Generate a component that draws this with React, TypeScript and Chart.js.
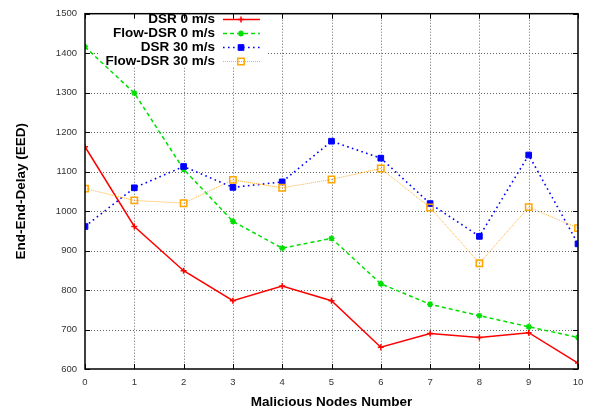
import React, { useEffect, useRef } from 'react';
import { Chart, registerables } from 'chart.js';
import { drawPoint } from 'chart.js/helpers';

Chart.register(...registerables);

const nodes = [0, 1, 2, 3, 4, 5, 6, 7, 8, 9, 10];
const dsr0 = [1163, 961, 849, 773, 810, 773, 655, 690, 680, 692, 615];
const flowDsr0 = [1416, 1299, 1106, 974, 906, 931, 816, 764, 735, 707, 680];
const dsr30 = [961, 1059, 1113, 1060, 1074, 1177, 1134, 1019, 936, 1142, 917];
const flowDsr30 = [1057, 1027, 1020, 1079, 1059, 1080, 1108, 1009, 868, 1010, 957];
const seriesNames = ['DSR 0 m/s', 'Flow-DSR 0 m/s', 'DSR 30 m/s', 'Flow-DSR 30 m/s'];
const xTitle = 'Malicious Nodes Number';
const yTitle = 'End-End-Delay (EED)';
const yMin = 600;
const yMax = 1500;
const yStep = 100;

const FONT = '"Liberation Sans", Arial, Helvetica, sans-serif';

const framePlugin = {
  id: 'gnuplotFrame',
  beforeDatasetsDraw(chart: any) {
    const { ctx, chartArea: a, scales } = chart;
    const xs = scales.x;
    const ys = scales.y;
    ctx.save();
    ctx.strokeStyle = '#666';
    ctx.lineWidth = 1;
    ctx.setLineDash([1, 2]);
    xs.ticks.forEach((t: any) => {
      const px = Math.round(xs.getPixelForValue(t.value)) + 0.5;
      if (px <= a.left + 1 || px >= a.right - 1) return;
      ctx.beginPath();
      ctx.moveTo(px, a.top);
      ctx.lineTo(px, a.bottom);
      ctx.stroke();
    });
    ys.ticks.forEach((t: any) => {
      const py = Math.round(ys.getPixelForValue(t.value)) + 0.5;
      if (py <= a.top + 1 || py >= a.bottom - 1) return;
      ctx.beginPath();
      ctx.moveTo(a.left, py);
      ctx.lineTo(a.right, py);
      ctx.stroke();
    });
    // opaque key box
    ctx.fillStyle = '#fff';
    ctx.fillRect(a.left + 14, a.top + 1, 267 - (a.left + 14), 67 - (a.top + 1));
    ctx.restore();
  },
  afterDraw(chart: any) {
    const { ctx, chartArea: a, scales } = chart;
    const xs = scales.x;
    const ys = scales.y;
    ctx.save();
    ctx.setLineDash([]);
    ctx.strokeStyle = '#000';
    ctx.lineWidth = 1;
    const tl = 5;
    xs.ticks.forEach((t: any) => {
      const px = Math.round(xs.getPixelForValue(t.value)) + 0.5;
      ctx.beginPath();
      ctx.moveTo(px, a.bottom);
      ctx.lineTo(px, a.bottom - tl);
      ctx.moveTo(px, a.top);
      ctx.lineTo(px, a.top + tl);
      ctx.stroke();
    });
    ys.ticks.forEach((t: any) => {
      const py = Math.round(ys.getPixelForValue(t.value)) + 0.5;
      ctx.beginPath();
      ctx.moveTo(a.left, py);
      ctx.lineTo(a.left + tl, py);
      ctx.moveTo(a.right, py);
      ctx.lineTo(a.right - tl, py);
      ctx.stroke();
    });
    ctx.lineWidth = 1.5;
    ctx.strokeRect(a.left, a.top, a.right - a.left, a.bottom - a.top);

    // axis titles
    ctx.fillStyle = '#000';
    ctx.font = `bold 13.5px ${FONT}`;
    ctx.textAlign = 'center';
    ctx.textBaseline = 'middle';
    ctx.fillText(xTitle, (a.left + a.right) / 2, 402);
    ctx.save();
    ctx.translate(21, (a.top + a.bottom) / 2);
    ctx.rotate(-Math.PI / 2);
    ctx.fillText(yTitle, 0, 0);
    ctx.restore();

    // legend
    const rows = [19, 33, 47, 61];
    chart.data.datasets.forEach((ds: any, i: number) => {
      const y = rows[i];
      ctx.fillStyle = '#000';
      ctx.font = `bold 13.5px ${FONT}`;
      ctx.textAlign = 'right';
      ctx.textBaseline = 'middle';
      ctx.fillText(ds.label, 215, y);
      ctx.save();
      ctx.strokeStyle = ds.borderColor;
      ctx.lineWidth = ds.borderWidth;
      ctx.setLineDash(ds.borderDash || []);
      ctx.beginPath();
      ctx.moveTo(223, y + 0.5);
      ctx.lineTo(260, y + 0.5);
      ctx.stroke();
      ctx.setLineDash([]);
      ctx.strokeStyle = ds.pointBorderColor;
      ctx.fillStyle = ds.pointBackgroundColor;
      ctx.lineWidth = ds.pointBorderWidth;
      drawPoint(ctx, { pointStyle: ds.pointStyle, radius: ds.pointRadius, rotation: 0, borderWidth: ds.pointBorderWidth }, 241, y + 0.5);
      ctx.restore();
    });
    ctx.restore();
  },
};

export default function App() {
  const ref = useRef<HTMLCanvasElement>(null);
  useEffect(() => {
    if (!ref.current) return;
    const mk = (arr: number[]) => nodes.map((n, i) => ({ x: n, y: arr[i] }));
    const chart = new Chart(ref.current, {
      type: 'line',
      data: {
        datasets: [
          {
            label: seriesNames[0],
            data: mk(dsr0),
            borderColor: '#ff0000',
            borderWidth: 1.5,
            pointStyle: 'cross',
            pointRadius: 3,
            pointBorderWidth: 1.5,
            pointBorderColor: '#ff0000',
            pointBackgroundColor: '#ff0000',
            order: 4,
          },
          {
            label: seriesNames[1],
            data: mk(flowDsr0),
            borderColor: '#00e000',
            borderWidth: 1.5,
            borderDash: [4, 3],
            pointStyle: 'star',
            pointRadius: 3,
            pointBorderWidth: 1.5,
            pointBorderColor: '#00e000',
            pointBackgroundColor: '#00e000',
            order: 3,
          },
          {
            label: seriesNames[2],
            data: mk(dsr30),
            borderColor: '#0000ff',
            borderWidth: 1.6,
            borderDash: [1.6, 3.4],
            pointStyle: 'rect',
            pointRadius: 4,
            pointBorderWidth: 1,
            pointBorderColor: '#0000ff',
            pointBackgroundColor: '#0000ff',
            order: 2,
          },
          {
            label: seriesNames[3],
            data: mk(flowDsr30),
            borderColor: '#ffb030',
            borderWidth: 1,
            borderDash: [1, 1],
            pointStyle: 'rect',
            pointRadius: 4.5,
            pointBorderWidth: 1.5,
            pointBorderColor: '#ffa500',
            pointBackgroundColor: 'rgba(255,255,255,0)',
            order: 1,
          },
        ] as any,
      },
      options: {
        responsive: false,
        maintainAspectRatio: false,
        animation: false,
        devicePixelRatio: 1,
        layout: { padding: { top: 8, right: 17, left: 0, bottom: 0 } },
        plugins: { legend: { display: false }, tooltip: { enabled: false } },
        elements: { line: { tension: 0 } },
        scales: {
          x: {
            type: 'linear',
            min: 0,
            max: 10,
            grid: { display: false, drawTicks: false },
            border: { display: false },
            ticks: {
              stepSize: 1,
              padding: 8,
              color: '#333',
              font: { family: FONT, size: 9.5 },
              maxRotation: 0,
              callback: (v: any) => String(v),
            },
            afterFit: (s: any) => {
              s.height = 46;
            },
          },
          y: {
            type: 'linear',
            min: yMin,
            max: yMax,
            grid: { display: false, drawTicks: false },
            border: { display: false },
            ticks: {
              stepSize: yStep,
              padding: 8,
              color: '#333',
              font: { family: FONT, size: 9.5 },
              callback: (v: any) => String(v),
            },
            afterFit: (s: any) => {
              s.width = 85;
            },
          },
        },
      },
      plugins: [framePlugin],
    } as any);
    return () => chart.destroy();
  }, []);
  return (
    <div style={{ position: 'absolute', left: 0, top: 0, width: 595, height: 415, background: '#fff' }}>
      <canvas ref={ref} width={595} height={415} />
    </div>
  );
}
